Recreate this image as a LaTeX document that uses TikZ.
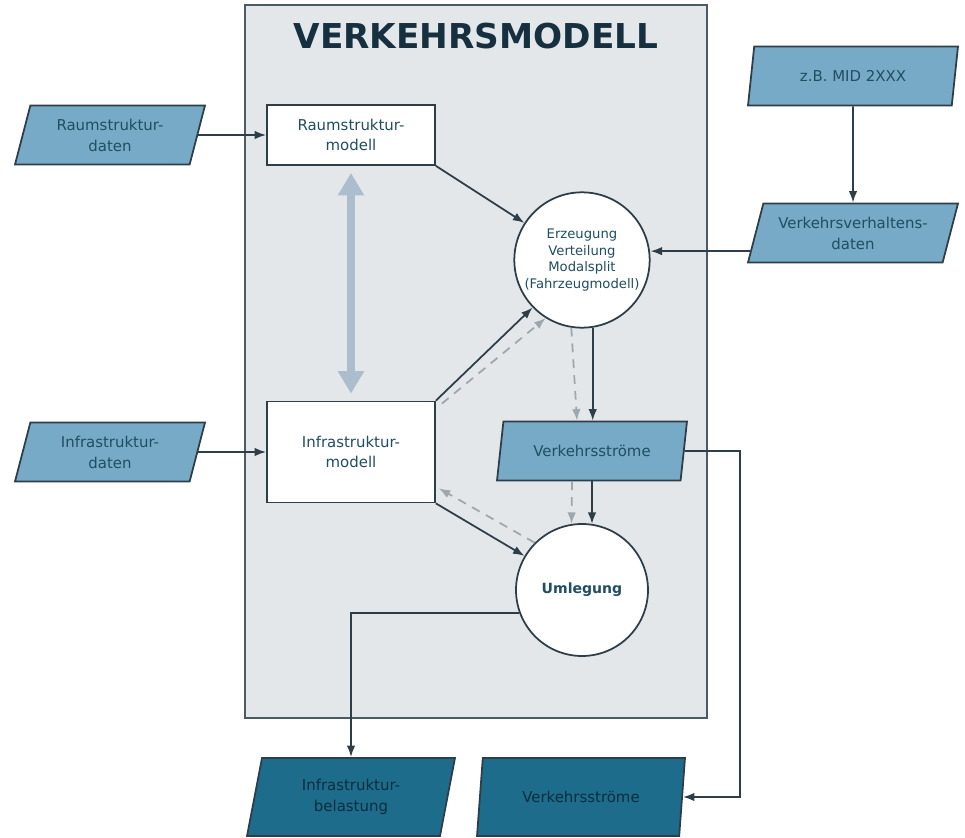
\documentclass[tikz,border=0pt]{standalone}
\usepackage{fontspec}
\setsansfont{DejaVu Sans}
\usepackage{tikz}
\usetikzlibrary{arrows.meta,positioning,shapes.geometric,calc}
\definecolor{vmedge}{RGB}{45,62,72}
\definecolor{vmback}{RGB}{228,231,234}
\definecolor{vmdat}{RGB}{118,170,198}
\definecolor{vmout}{RGB}{30,108,140}
\definecolor{vmtext}{RGB}{32,78,98}
\definecolor{vmdark}{RGB}{12,45,62}
\definecolor{vmfb}{RGB}{158,166,174}
\definecolor{vmlink}{RGB}{172,190,205}
\definecolor{vmtitle}{RGB}{22,48,64}
\tikzset{
  vmbox/.style={
    draw=vmedge, line width=1pt, align=center, inner sep=1pt,
    font=\fontsize{8.5}{11.5}\selectfont\sffamily, text=vmtext
  },
  modbox/.style={vmbox, fill=white, minimum width=3.36cm},
  dat/.style={
    vmbox, trapezium, trapezium left angle=67, trapezium right angle=113,
    trapezium stretches body, fill=vmdat, minimum width=3.8cm,
    minimum height=1.18cm, font=\fontsize{8.5}{12}\selectfont\sffamily
  },
  outdat/.style={
    dat, fill=vmout, text=vmdark, minimum width=4.16cm, minimum height=1.56cm,
    trapezium left angle=69, trapezium right angle=111
  },
  proc/.style={vmbox, circle, fill=white, minimum size=2.64cm,
    font=\fontsize{7.5}{9.6}\selectfont\sffamily},
  arr/.style={-{Latex[length=2.3mm,width=1.7mm]}, draw=vmedge, line width=1pt},
  darr/.style={arr, draw=vmfb, dash pattern=on 5pt off 4pt},
  link/.style={
    {Triangle[length=4.5mm,width=5mm]}-{Triangle[length=4.5mm,width=5mm]},
    draw=vmlink, line width=5pt
  },
  modframe/.style={draw=vmedge!85, fill=vmback, line width=1.1pt}
}
\begin{document}
\begin{tikzpicture}[x=0.02cm, y=-0.02cm]
  \useasboundingbox (0,0) rectangle (965,838);
  \draw[modframe] (245,5) rectangle (707,718);
  \node[font=\fontsize{19.5}{22}\selectfont\sffamily\bfseries, text=vmtitle] (title) at (476,36) {VERKEHRSMODELL};
  % Eingangsdaten
  \node[dat] (rdat) at (110,135) {Raumstruktur-\\daten};
  \node[dat] (idat) at (110,452) {Infrastruktur-\\daten};
  \node[dat, minimum width=4.2cm] (mid) at (853,76) {z.B. MID 2XXX};
  \node[dat, minimum width=4.2cm] (vvd) at (853,233) {Verkehrsverhaltens-\\daten};
  % Modellbausteine
  \node[modbox, minimum height=1.2cm] (rmod) at (351,135) {Raumstruktur-\\modell};
  \node[modbox, minimum height=2.02cm] (imod) at (351,452) {Infrastruktur-\\modell};
  \node[proc] (erz) at (582,260) {Erzeugung\\Verteilung\\Modalsplit\\(Fahrzeugmodell)};
  \node[dat] (vs) at (592,451) {Verkehrsströme};
  \node[proc, font=\fontsize{8}{10}\selectfont\sffamily\bfseries] (uml) at (582,590) {Umlegung};
  % Ergebnisse
  \node[outdat] (ibel) at (351,797) {Infrastruktur-\\belastung};
  \node[outdat] (vsout) at (581,797) {Verkehrsströme};
  \coordinate (bend) at (740,451);
  % Verbindungen
  \draw[link, shorten >=4pt, shorten <=4pt] (rmod.south) -- (imod.north);
  \draw[arr] (rdat.east) -- (rmod.west);
  \draw[arr] (idat.east) -- (imod.west);
  \draw[arr] (mid.south) -- (vvd.north);
  \draw[arr] (vvd.190) -- (vvd.190 -| erz.east);
  \draw[arr] (rmod.south east) -- (erz);
  \draw[arr] (imod.north east) -- (erz);
  \draw[darr] ([xshift=0.12cm,yshift=-0.06cm]imod.north east) -- (erz.238);
  \draw[arr] (erz.279) -- (erz.279 |- vs.north);
  \draw[darr] (erz.261) -- ([xshift=-0.3cm]vs.north);
  \draw[arr] (vs.south) -- (vs.south |- uml.81);
  \draw[darr] ([xshift=-0.4cm]vs.south) -- (uml.99);
  \draw[arr] (imod.south east) -- (uml);
  \draw[darr] (uml.135) -- ([xshift=0.06cm,yshift=0.3cm]imod.south east);
  \draw[arr] (uml.200) -| (ibel.north);
  \draw[arr] (vs.east) -- (bend) |- (vsout.east);
\end{tikzpicture}
\end{document}
